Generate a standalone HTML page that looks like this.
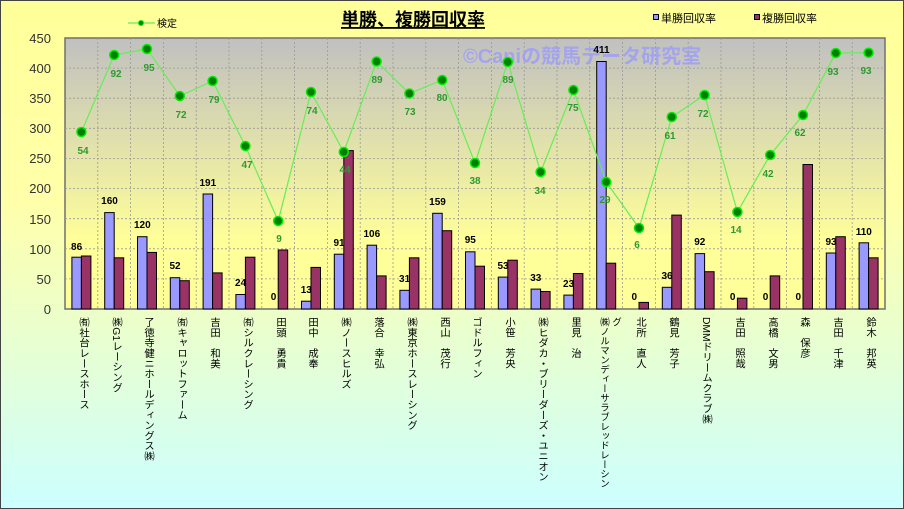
<!DOCTYPE html>
<html><head><meta charset="utf-8"><style>
body{margin:0;}
#c{position:relative;width:904px;height:509px;overflow:hidden;background:linear-gradient(#ffff99 0%,#ffffaa 40%,#ccffff 100%);box-sizing:border-box;border:1px solid #444;font-family:"Liberation Sans","Noto Sans CJK JP",sans-serif;}
.v{position:absolute;top:316px;writing-mode:vertical-rl;font-size:10.3px;line-height:12px;width:12px;color:#000;white-space:nowrap;}
</style></head><body><div id="c">
<svg width="904" height="509" style="position:absolute;left:0;top:0" font-family="Liberation Sans, Noto Sans CJK JP, sans-serif">
<defs><linearGradient id="pg" x1="0" y1="0" x2="0" y2="1"><stop offset="0" stop-color="#c0c0c0"/><stop offset="0.75" stop-color="#ffff99"/><stop offset="1" stop-color="#ffff99"/></linearGradient></defs>
<rect x="64" y="37" width="820" height="271" fill="url(#pg)" stroke="#707070" stroke-width="1.5"/>
<g stroke="#999" stroke-dasharray="2,2" stroke-width="0.8">
<line x1="64" x2="884" y1="67.1" y2="67.1"/><line x1="64" x2="884" y1="97.2" y2="97.2"/><line x1="64" x2="884" y1="127.3" y2="127.3"/><line x1="64" x2="884" y1="157.4" y2="157.4"/><line x1="64" x2="884" y1="187.6" y2="187.6"/><line x1="64" x2="884" y1="217.7" y2="217.7"/><line x1="64" x2="884" y1="247.8" y2="247.8"/><line x1="64" x2="884" y1="277.9" y2="277.9"/>
<line y1="37" y2="308" x1="96.8" x2="96.8"/><line y1="37" y2="308" x1="129.6" x2="129.6"/><line y1="37" y2="308" x1="162.4" x2="162.4"/><line y1="37" y2="308" x1="195.2" x2="195.2"/><line y1="37" y2="308" x1="228" x2="228"/><line y1="37" y2="308" x1="260.8" x2="260.8"/><line y1="37" y2="308" x1="293.6" x2="293.6"/><line y1="37" y2="308" x1="326.4" x2="326.4"/><line y1="37" y2="308" x1="359.2" x2="359.2"/><line y1="37" y2="308" x1="392" x2="392"/><line y1="37" y2="308" x1="424.8" x2="424.8"/><line y1="37" y2="308" x1="457.6" x2="457.6"/><line y1="37" y2="308" x1="490.4" x2="490.4"/><line y1="37" y2="308" x1="523.2" x2="523.2"/><line y1="37" y2="308" x1="556" x2="556"/><line y1="37" y2="308" x1="588.8" x2="588.8"/><line y1="37" y2="308" x1="621.6" x2="621.6"/><line y1="37" y2="308" x1="654.4" x2="654.4"/><line y1="37" y2="308" x1="687.2" x2="687.2"/><line y1="37" y2="308" x1="720" x2="720"/><line y1="37" y2="308" x1="752.8" x2="752.8"/><line y1="37" y2="308" x1="785.6" x2="785.6"/><line y1="37" y2="308" x1="818.4" x2="818.4"/><line y1="37" y2="308" x1="851.2" x2="851.2"/>
</g>
<g font-size="13" fill="#333" text-anchor="end">
<text x="50" y="313">0</text><text x="50" y="283">50</text><text x="50" y="253">100</text><text x="50" y="223">150</text><text x="50" y="192">200</text><text x="50" y="162">250</text><text x="50" y="132">300</text><text x="50" y="102">350</text><text x="50" y="72">400</text><text x="50" y="42">450</text>
</g>
<text x="462" y="62" font-size="20" font-weight="bold" fill="#9999ff" opacity="0.75">©Caniの競馬データ研究室</text>
<g fill="#9999ff" stroke="#000" stroke-width="1">
<rect x="70.9" y="256.2" width="9.5" height="51.8"/><rect x="103.7" y="211.6" width="9.5" height="96.4"/><rect x="136.5" y="235.7" width="9.5" height="72.3"/><rect x="169.3" y="276.7" width="9.5" height="31.3"/><rect x="202.1" y="193" width="9.5" height="115"/><rect x="234.9" y="293.5" width="9.5" height="14.5"/><rect x="300.5" y="300.2" width="9.5" height="7.8"/><rect x="333.3" y="253.2" width="9.5" height="54.8"/><rect x="366.1" y="244.2" width="9.5" height="63.8"/><rect x="398.9" y="289.3" width="9.5" height="18.7"/><rect x="431.7" y="212.3" width="9.5" height="95.7"/><rect x="464.5" y="250.8" width="9.5" height="57.2"/><rect x="497.3" y="276.1" width="9.5" height="31.9"/><rect x="530.1" y="288.1" width="9.5" height="19.9"/><rect x="562.9" y="294.1" width="9.5" height="13.9"/><rect x="595.7" y="60.5" width="9.5" height="247.5"/><rect x="661.3" y="286.3" width="9.5" height="21.7"/><rect x="694.1" y="252.6" width="9.5" height="55.4"/><rect x="825.3" y="252" width="9.5" height="56"/><rect x="858.1" y="241.8" width="9.5" height="66.2"/>
</g>
<g fill="#993366" stroke="#000" stroke-width="1">
<rect x="80.4" y="255" width="9.5" height="53"/><rect x="113.2" y="256.8" width="9.5" height="51.2"/><rect x="146" y="251.4" width="9.5" height="56.6"/><rect x="178.8" y="279.7" width="9.5" height="28.3"/><rect x="211.6" y="271.9" width="9.5" height="36.1"/><rect x="244.4" y="256.2" width="9.5" height="51.8"/><rect x="277.2" y="249" width="9.5" height="59"/><rect x="310" y="266.4" width="9.5" height="41.6"/><rect x="342.8" y="149.6" width="9.5" height="158.4"/><rect x="375.6" y="274.9" width="9.5" height="33.1"/><rect x="408.4" y="256.8" width="9.5" height="51.2"/><rect x="441.2" y="229.7" width="9.5" height="78.3"/><rect x="474" y="265.2" width="9.5" height="42.8"/><rect x="506.8" y="259.2" width="9.5" height="48.8"/><rect x="539.6" y="290.5" width="9.5" height="17.5"/><rect x="572.4" y="272.5" width="9.5" height="35.5"/><rect x="605.2" y="262.2" width="9.5" height="45.8"/><rect x="638" y="301.4" width="9.5" height="6.6"/><rect x="670.8" y="214.1" width="9.5" height="93.9"/><rect x="703.6" y="270.7" width="9.5" height="37.3"/><rect x="736.4" y="297.2" width="9.5" height="10.8"/><rect x="769.2" y="274.9" width="9.5" height="33.1"/><rect x="802" y="163.5" width="9.5" height="144.5"/><rect x="834.8" y="235.7" width="9.5" height="72.3"/><rect x="867.6" y="256.8" width="9.5" height="51.2"/>
</g>
<g font-size="10" font-weight="bold" fill="#000" text-anchor="middle">
<text x="75.6" y="249">86</text><text x="108.5" y="203">160</text><text x="141.3" y="227">120</text><text x="174" y="268">52</text><text x="206.8" y="185">191</text><text x="239.6" y="285">24</text><text x="272.5" y="299">0</text><text x="305.3" y="292">13</text><text x="338" y="245">91</text><text x="370.8" y="236">106</text><text x="403.6" y="281">31</text><text x="436.5" y="204">159</text><text x="469.3" y="242">95</text><text x="502" y="268">53</text><text x="534.8" y="280">33</text><text x="567.6" y="286">23</text><text x="600.5" y="52">411</text><text x="633.3" y="299">0</text><text x="666" y="278">36</text><text x="698.8" y="244">92</text><text x="731.6" y="299">0</text><text x="764.5" y="299">0</text><text x="797.3" y="299">0</text><text x="830" y="244">93</text><text x="862.8" y="234">110</text>
</g>
<polyline fill="none" stroke="#66ee55" stroke-width="1.2" points="80.4,131 113.2,54 146,48 178.8,95 211.6,80 244.4,145 277.2,220 310,91 342.8,151 375.6,60.5 408.4,92.5 441.2,79 474,162 506.8,61 539.6,171 572.4,89 605.2,181 638,227 670.8,116 703.6,94 736.4,211 769.2,154 802,114 834.8,52 867.6,51.7"/>
<g fill="#008000" stroke="#00ee00" stroke-width="1.5">
<circle cx="80.4" cy="131" r="4.5"/><circle cx="113.2" cy="54" r="4.5"/><circle cx="146" cy="48" r="4.5"/><circle cx="178.8" cy="95" r="4.5"/><circle cx="211.6" cy="80" r="4.5"/><circle cx="244.4" cy="145" r="4.5"/><circle cx="277.2" cy="220" r="4.5"/><circle cx="310" cy="91" r="4.5"/><circle cx="342.8" cy="151" r="4.5"/><circle cx="375.6" cy="60.5" r="4.5"/><circle cx="408.4" cy="92.5" r="4.5"/><circle cx="441.2" cy="79" r="4.5"/><circle cx="474" cy="162" r="4.5"/><circle cx="506.8" cy="61" r="4.5"/><circle cx="539.6" cy="171" r="4.5"/><circle cx="572.4" cy="89" r="4.5"/><circle cx="605.2" cy="181" r="4.5"/><circle cx="638" cy="227" r="4.5"/><circle cx="670.8" cy="116" r="4.5"/><circle cx="703.6" cy="94" r="4.5"/><circle cx="736.4" cy="211" r="4.5"/><circle cx="769.2" cy="154" r="4.5"/><circle cx="802" cy="114" r="4.5"/><circle cx="834.8" cy="52" r="4.5"/><circle cx="867.6" cy="51.7" r="4.5"/>
</g>
<g font-size="10" font-weight="bold" fill="#2e9a2e" text-anchor="middle">
<text x="82" y="153">54</text><text x="115" y="76">92</text><text x="148" y="70">95</text><text x="180" y="117">72</text><text x="213" y="102">79</text><text x="246" y="167">47</text><text x="278" y="241">9</text><text x="311" y="113">74</text><text x="344" y="172">44</text><text x="376" y="82">89</text><text x="409" y="114">73</text><text x="441" y="100">80</text><text x="474" y="183">38</text><text x="507" y="82">89</text><text x="539" y="193">34</text><text x="572" y="110">75</text><text x="604" y="202">29</text><text x="636" y="247">6</text><text x="669" y="138">61</text><text x="702" y="116">72</text><text x="735" y="232">14</text><text x="767" y="176">42</text><text x="799" y="135">62</text><text x="832" y="74">93</text><text x="865" y="73">93</text>
</g>
<line x1="127" x2="154" y1="22" y2="22" stroke="#66ee55" stroke-width="1.2"/>
<circle cx="140" cy="22" r="2.5" fill="#008000" stroke="#00ee00"/>
<text x="156" y="26" font-size="10" fill="#000">検定</text>
<text x="412" y="25" font-size="18" font-weight="bold" text-anchor="middle" fill="#000" text-decoration="underline">単勝、複勝回収率</text>
<rect x="652.5" y="13.5" width="5" height="5" fill="#9999ff" stroke="#000"/>
<text x="660" y="21" font-size="11" fill="#000">単勝回収率</text>
<rect x="753.5" y="13.5" width="5" height="5" fill="#993366" stroke="#000"/>
<text x="761" y="21" font-size="11" fill="#000">複勝回収率</text>
</svg>
<div class="v" style="left:75px">㈲社台レースホース</div>
<div class="v" style="left:108px">㈱G1レーシング</div>
<div class="v" style="left:140px">了徳寺健ニホールディングス㈱</div>
<div class="v" style="left:173px">㈲キャロットファーム</div>
<div class="v" style="left:206px">吉田　和美</div>
<div class="v" style="left:239px">㈲シルクレーシング</div>
<div class="v" style="left:272px">田頭　勇貴</div>
<div class="v" style="left:304px">田中　成奉</div>
<div class="v" style="left:337px">㈱ノースヒルズ</div>
<div class="v" style="left:370px">落合　幸弘</div>
<div class="v" style="left:403px">㈱東京ホースレーシング</div>
<div class="v" style="left:436px">西山　茂行</div>
<div class="v" style="left:468px">ゴドルフィン</div>
<div class="v" style="left:501px">小笹　芳央</div>
<div class="v" style="left:534px">㈱ヒダカ・ブリーダーズ・ユニオン</div>
<div class="v" style="left:567px">里見　治</div>
<div class="v" style="left:596px;width:24px;font-size:9.5px;writing-mode:vertical-lr">㈱ノルマンディーサラブレッドレーシン<br>グ</div>
<div class="v" style="left:632px">北所　直人</div>
<div class="v" style="left:665px">鶴見　芳子</div>
<div class="v" style="left:698px">DMMドリームクラブ㈱</div>
<div class="v" style="left:731px">吉田　照哉</div>
<div class="v" style="left:764px">高橋　文男</div>
<div class="v" style="left:796px">森　保彦</div>
<div class="v" style="left:829px">吉田　千津</div>
<div class="v" style="left:862px">鈴木　邦英</div>
</div></body></html>
